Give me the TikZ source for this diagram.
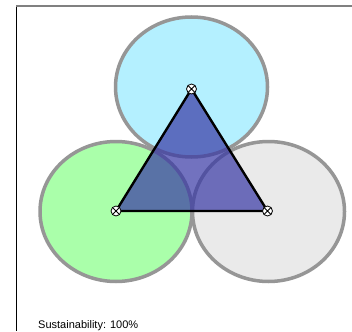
\documentclass[tikz,border=0pt]{standalone}
\usepackage{fontspec}
\setmainfont{Liberation Sans}
\usetikzlibrary{shapes.geometric}
\definecolor{cyanf}{RGB}{180,240,255}
\definecolor{greenf}{RGB}{170,255,170}
\definecolor{grayf}{RGB}{234,234,234}
\definecolor{ringc}{RGB}{150,150,150}
\definecolor{trif}{RGB}{55,55,165}
\tikzset{
  ring/.style={ellipse, draw=ringc, line width=3.5pt, minimum width=152pt, minimum height=140pt, inner sep=0pt},
  mk/.style={circle, draw=black, line width=0.8pt, fill=white, minimum size=10pt, inner sep=0pt,
    path picture={\draw[line width=0.8pt] (path picture bounding box.north west) -- (path picture bounding box.south east)
      (path picture bounding box.north east) -- (path picture bounding box.south west);}},
  tri/.style={draw=black, line width=2.4pt, line join=miter, fill=trif, fill opacity=0.7},
}
\begin{document}
\begin{tikzpicture}[x=1pt,y=-1pt]
\useasboundingbox (0,0) rectangle (352,331);
\fill[white] (0,0) rectangle (352,331);
\draw[black, line width=1pt] (16,6) -- (16,331);
\draw[gray, line width=1.5pt] (16,6) -- (352,6);
\node[ring, fill=greenf] (cl) at (116,211.5) {};
\node[ring, fill=grayf] (cr) at (268.5,211.5) {};
\node[ring, fill=cyanf] (ct) at (191.5,87) {};
\coordinate (A) at (191.5,89);
\coordinate (B) at (116,211);
\coordinate (C) at (267.5,211);
\draw[tri] (A) -- (B) -- (C) -- cycle;
\node[mk] (mA) at (A) {};
\node[mk] (mB) at (B) {};
\node[mk] (mC) at (C) {};
\node[anchor=base west, inner sep=0pt, font=\fontsize{11}{13}\selectfont] (lab) at (38,328) {Sustainability: 100\%};
\end{tikzpicture}
\end{document}
